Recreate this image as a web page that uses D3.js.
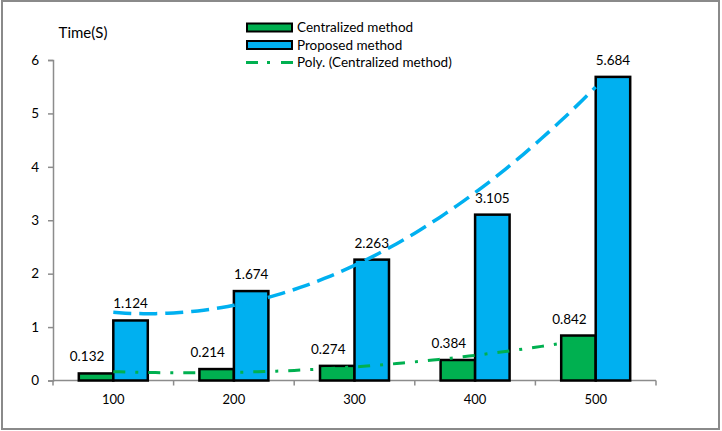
<!DOCTYPE html>
<html>
<head>
<meta charset="utf-8">
<script src="https://cdn.jsdelivr.net/npm/d3@7"></script>
<style>
  html, body { margin: 0; padding: 0; background: #fff; }
  svg { display: block; font-family: Lato, "Open Sans", sans-serif; }
</style>
</head>
<body>
<svg id="chart" width="722" height="431"></svg>
<script>
// ---- data ----
const categories = ["100", "200", "300", "400", "500"];
const centralized = [0.132, 0.214, 0.274, 0.384, 0.842];
const proposed = [1.124, 1.674, 2.263, 3.105, 5.684];
const seriesNames = ["Centralized method", "Proposed method"];
const trendName = "Poly. (Centralized method)";
const yTicks = [0, 1, 2, 3, 4, 5, 6];
const yTitle = "Time(S)";

// ---- styles ----
const GREEN = "#00B050", BLUE = "#00B0F0", AXIS = "#8c8c8c";

const svg = d3.select("#chart");

// outer frame
svg.append("rect").attr("x", 2).attr("y", 1).attr("width", 717).attr("height", 428)
  .attr("fill", "#fff").attr("stroke", "#8a8a8a").attr("stroke-width", 2);

const plot = { left: 53, right: 656, top: 60, bottom: 380.5 };

const x0 = d3.scaleBand().domain(categories).range([plot.left, plot.right]).paddingInner(0).paddingOuter(0);
const bw = x0.bandwidth();
const x1 = d3.scaleBand().domain(seriesNames).range([bw * 0.214, bw * 0.786]);
const y = d3.scaleLinear().domain([0, 6]).range([plot.bottom, plot.top]);

// y axis
const yAxis = d3.axisLeft(y).tickValues(yTicks).tickSize(5).tickPadding(9).tickFormat(d3.format("d"));
const gy = svg.append("g").attr("transform", `translate(${plot.left},0)`).call(yAxis);
gy.select(".domain").attr("stroke", AXIS).attr("stroke-width", 1.5);
gy.selectAll(".tick line").attr("stroke", AXIS).attr("stroke-width", 1.5);
gy.selectAll(".tick text").attr("font-size", 13.5).attr("fill", "#000").attr("font-family", "Lato");

// x axis: line + ticks at category boundaries
const gx = svg.append("g");
gx.append("line").attr("x1", plot.left).attr("x2", plot.right)
  .attr("y1", plot.bottom).attr("y2", plot.bottom).attr("stroke", AXIS).attr("stroke-width", 1.5);
const bounds = categories.map(c => x0(c)).concat([plot.right]);
gx.selectAll("line.tk").data(bounds).join("line").attr("class", "tk")
  .attr("x1", d => d).attr("x2", d => d).attr("y1", plot.bottom).attr("y2", plot.bottom + 5)
  .attr("stroke", AXIS).attr("stroke-width", 1.5);
gx.selectAll("text").data(categories).join("text")
  .attr("x", d => x0(d) + bw / 2).attr("y", 404).attr("text-anchor", "middle")
  .attr("font-size", 13).attr("fill", "#000").text(d => d);

// y title
svg.append("text").attr("x", 83).attr("y", 38).attr("text-anchor", "middle")
  .attr("font-size", 15).attr("fill", "#000").text(yTitle);

// bars
const seriesData = [
  { name: seriesNames[0], values: centralized, color: GREEN },
  { name: seriesNames[1], values: proposed, color: BLUE }
];
seriesData.forEach(s => {
  svg.append("g").selectAll("rect").data(s.values).join("rect")
    .attr("x", (d, i) => x0(categories[i]) + x1(s.name))
    .attr("y", d => y(d))
    .attr("width", x1.bandwidth())
    .attr("height", d => y(0) - y(d))
    .attr("fill", s.color).attr("stroke", "#000").attr("stroke-width", 2.5);
});

// polynomial (order 2) trendline via least squares
function quadFit(vals) {
  const xs = vals.map((_, i) => i + 1);
  let S = [0, 0, 0, 0, 0], T = [0, 0, 0];
  xs.forEach((xv, i) => {
    for (let k = 0; k < 5; k++) S[k] += Math.pow(xv, k);
    for (let k = 0; k < 3; k++) T[k] += Math.pow(xv, k) * vals[i];
  });
  const A = [[S[0], S[1], S[2], T[0]], [S[1], S[2], S[3], T[1]], [S[2], S[3], S[4], T[2]]];
  for (let c = 0; c < 3; c++) {
    for (let r = c + 1; r < 3; r++) {
      const f = A[r][c] / A[c][c];
      for (let k = c; k < 4; k++) A[r][k] -= f * A[c][k];
    }
  }
  const coef = [0, 0, 0];
  for (let r = 2; r >= 0; r--) {
    let s = A[r][3];
    for (let k = r + 1; k < 3; k++) s -= A[r][k] * coef[k];
    coef[r] = s / A[r][r];
  }
  return t => coef[0] + coef[1] * t + coef[2] * t * t;
}
const xPos = d3.scaleLinear().domain([1, categories.length])
  .range([x0(categories[0]) + bw / 2, x0(categories[categories.length - 1]) + bw / 2]);
const line = d3.line().x(d => xPos(d[0])).y(d => y(d[1]));
function trend(vals) {
  const f = quadFit(vals);
  return d3.range(1, categories.length + 0.001, 0.05).map(t => [t, f(t)]);
}
svg.append("path").datum(trend(proposed)).attr("d", line).attr("fill", "none")
  .attr("stroke", BLUE).attr("stroke-width", 3.5).attr("stroke-dasharray", "18,8");
svg.append("path").datum(trend(centralized)).attr("d", line).attr("fill", "none")
  .attr("stroke", GREEN).attr("stroke-width", 3).attr("stroke-dasharray", "12,10,3,10");

// data labels
const fmt = d3.format(".3f");
svg.append("g").selectAll("text").data(centralized).join("text")
  .attr("x", (d, i) => x0(categories[i]) + x1(seriesNames[0]) + x1.bandwidth() / 2 - 9)
  .attr("y", d => y(d) - 12).attr("text-anchor", "middle").attr("font-size", 13.5).attr("fill", "#000")
  .text(d => fmt(d));
svg.append("g").selectAll("text").data(proposed).join("text")
  .attr("x", (d, i) => x0(categories[i]) + x1(seriesNames[1]) + x1.bandwidth() / 2)
  .attr("y", d => y(d) - 12).attr("text-anchor", "middle").attr("font-size", 13.5).attr("fill", "#000")
  .text(d => fmt(d));

// legend
const lg = svg.append("g");
const rows = [
  { label: seriesNames[0], type: "bar", color: GREEN },
  { label: seriesNames[1], type: "bar", color: BLUE },
  { label: trendName, type: "line", color: GREEN }
];
rows.forEach((r, i) => {
  const cy = 27.5 + i * 17.5;
  if (r.type === "bar") {
    lg.append("rect").attr("x", 247).attr("y", cy - 4).attr("width", 45).attr("height", 8)
      .attr("fill", r.color).attr("stroke", "#000").attr("stroke-width", 2);
  } else {
    lg.append("line").attr("x1", 246).attr("x2", 293).attr("y1", cy).attr("y2", cy)
      .attr("stroke", r.color).attr("stroke-width", 3).attr("stroke-dasharray", "12,9,3,11");
  }
  lg.append("text").attr("x", 297).attr("y", cy + 4.5).attr("font-size", 13.5).attr("fill", "#000").text(r.label);
});
</script>
</body>
</html>
